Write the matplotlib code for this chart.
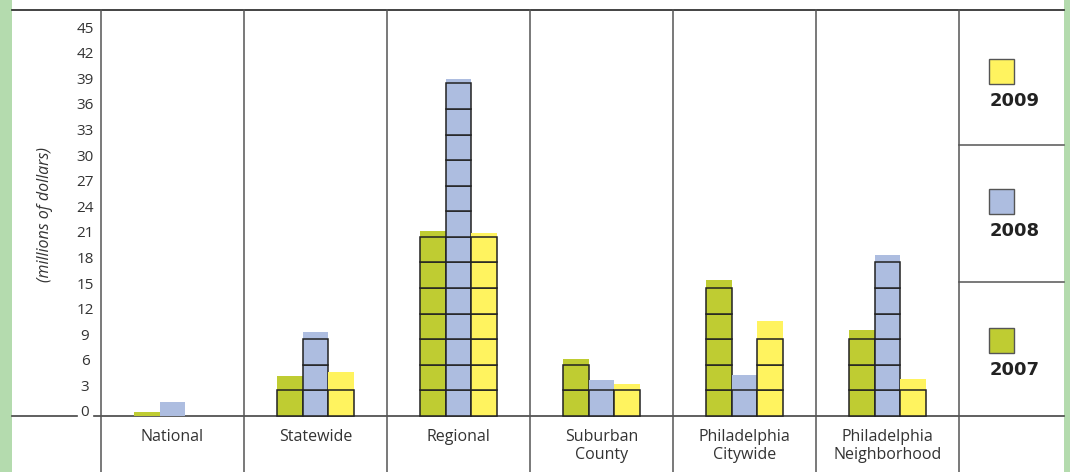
import numpy as np
import matplotlib
matplotlib.use("Agg")
import matplotlib.pyplot as plt
from matplotlib.patches import Rectangle, FancyBboxPatch

categories = ["National", "Statewide", "Regional", "Suburban\nCounty",
              "Philadelphia\nCitywide", "Philadelphia\nNeighborhood"]
years = ["2007", "2008", "2009"]
v2007 = [0.5, 4.7, 21.7, 6.7, 15.9, 10.1]
v2008 = [1.6, 9.8, 39.5, 4.2, 4.8, 18.9]
v2009 = [0.0, 5.2, 21.4, 3.7, 11.1, 4.3]
yticks = list(range(0, 46, 3))
colors = ["#bfcc32", "#adbde0", "#fff35f"]
block = 3

W, H = 1070, 472
fig = plt.figure(figsize=(W / 100, H / 100), dpi=100)
fig.patch.set_facecolor("#b4dbae")

# overlay in pixel coordinates for the frame, grid lines and legend
bg = fig.add_axes([0, 0, 1, 1])
bg.set_xlim(0, W)
bg.set_ylim(H, 0)
bg.axis("off")
bg.add_patch(FancyBboxPatch((12, -20), 1052, H + 40, boxstyle="round,pad=0,rounding_size=10",
                            fc="white", ec="none"))
bg.plot([12, 1064], [10, 10], color="#222222", lw=1.2)
bg.plot([12, 77], [416, 416], color="#444444", lw=1.2)
bg.plot([94, 1064], [416, 416], color="#444444", lw=1.2)
x_left, x_right = 101, 959
gw = (x_right - x_left) / len(categories)
for i in range(len(categories) + 1):
    bg.plot([x_left + i * gw] * 2, [10, H], color="#555555", lw=1.1)
for y in [145, 282]:
    bg.plot([x_right, 1064], [y, y], color="#555555", lw=1.1)

# legend column
leg_y = [340, 201, 71]
for yr, c, yy in zip(years, colors, leg_y):
    bg.add_patch(Rectangle((989, yy - 12), 25, 25, fc=c, ec="#555555", lw=1))
    bg.text(1015, yy + 30, yr, ha="center", va="center", fontsize=13,
            fontweight="bold", color="#222222", family="DejaVu Sans")

# y axis labels
px_per_unit = 8.53
for t in yticks:
    bg.text(85, 416 - t * px_per_unit - 3, str(t), ha="center", va="center",
            fontsize=11, color="#333333", family="Open Sans")
bg.text(45, 215, "(millions of dollars)", rotation=90, ha="center", va="center",
        fontsize=11.5, style="italic", color="#333333", family="Open Sans")

# bar axes: x from 101 to 959 px, y 0 at 416 px
ytop = (416 - 10) / px_per_unit
ybot = (416 - H) / px_per_unit
ax = fig.add_axes([x_left / W, 0, (x_right - x_left) / W, (H - 10) / H])
ax.set_xlim(-0.5, len(categories) - 0.5)
ax.set_ylim(ybot, ytop)
ax.axis("off")

x = np.arange(len(categories))
bw = 0.18
for k, (vals, c) in enumerate(zip([v2007, v2008, v2009], colors)):
    xs = x + (k - 1) * bw
    ax.bar(xs, vals, width=bw, color=c, edgecolor="none")
    for xi, v in zip(xs, vals):
        n = int(v // block)
        if n:
            ax.bar([xi] * n, [block] * n, bottom=np.arange(n) * block, width=bw,
                   color=c, edgecolor="#222222", linewidth=1.1)

for xi, cat in zip(x, categories):
    ax.text(xi, -1.5, cat, ha="center", va="top", fontsize=11.5,
            color="#333333", family="Open Sans", linespacing=1.2)

fig.savefig("out.png", dpi=100, facecolor=fig.get_facecolor())
